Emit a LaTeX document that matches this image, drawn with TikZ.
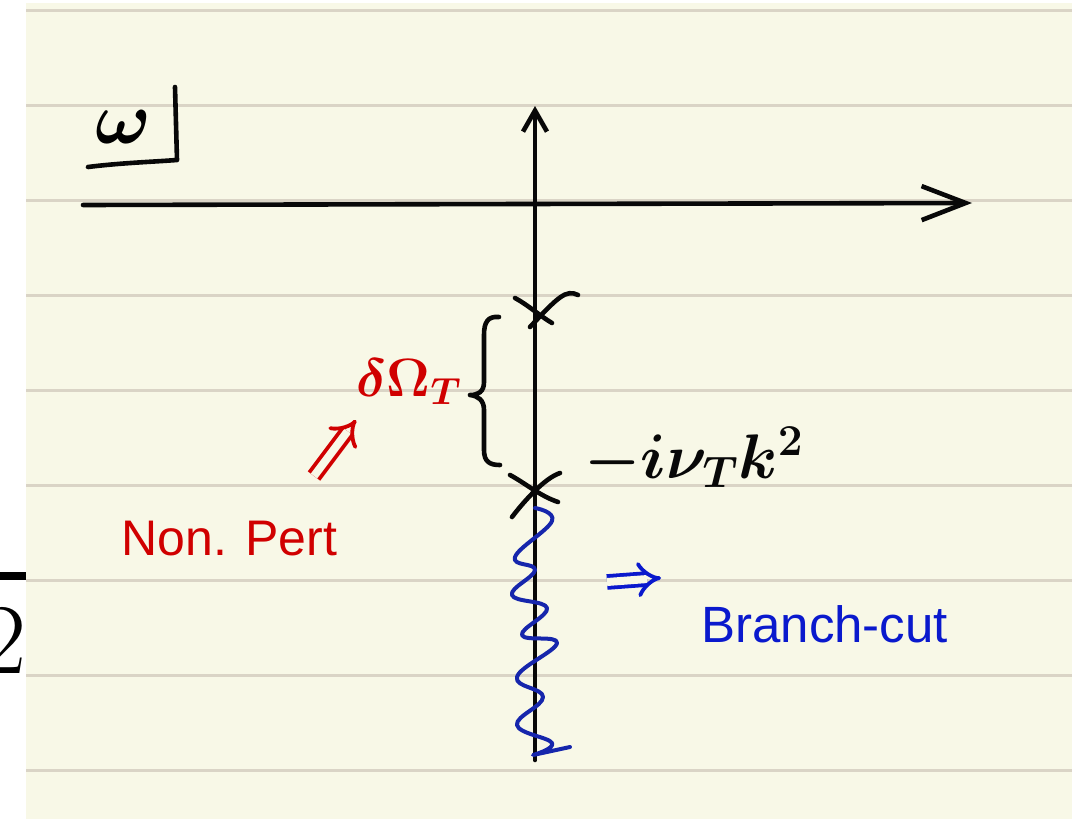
\RequirePackage{fix-cm}
\documentclass[tikz,border=0pt]{standalone}
\usepackage{fontspec}
\newfontfamily\sansfont{Liberation Sans}
\usetikzlibrary{arrows.meta}
\definecolor{paper}{RGB}{248,248,231}
\definecolor{ruling}{RGB}{218,212,198}
\definecolor{ink}{RGB}{8,8,8}
\definecolor{pred}{RGB}{208,0,0}
\definecolor{pblue}{RGB}{10,25,205}
\definecolor{wblue}{RGB}{22,38,172}
\begin{document}
\begin{tikzpicture}[x=0.5pt,y=-0.5pt,
  pen/.style={ink, line width=2.3pt, line cap=round, line join=round},
  dblarrow/.style={line width=1.9pt, double=paper, double distance=4pt, -{Implies}},
  sanslabel/.style={inner sep=0pt, anchor=base west, font=\sansfont\fontsize{25}{30}\selectfont},
  mathlabel/.style={inner sep=0pt, anchor=base west}]
\useasboundingbox (0,0) rectangle (1072,819);
\fill[white] (0,0) rectangle (1072,819);
% overlay fragment on the left margin
\node[anchor=base east, inner sep=0pt, font=\fontsize{50}{55}\selectfont] (two) at (27,673) {2};
\fill[black] (0,572) rectangle (26,580);
% notebook paper
\fill[paper] (26,2.5) rectangle (1072,819);
\foreach \i in {0,...,8}
  \draw[ruling, line width=1.5pt] (26,10.5+95.06*\i) -- (1072,10.5+95.06*\i);
% axes
\coordinate (xl) at (83,205);
\coordinate (xr) at (972,203);
\coordinate (yt) at (535,106);
\coordinate (yb) at (535,760);
\draw[pen, -{Straight Barb[length=22pt,width=17pt]}] (xl) -- (xr);
\draw[pen, -{Straight Barb[length=10.5pt,width=12pt]}] (yb) -- (yt);
% omega label
\node[inner sep=0pt, anchor=base, font=\fontsize{37}{40}\selectfont\boldmath] (w) at (123,143) {$\omega$};
\draw[pen] (88,167) .. controls (120,163) and (150,162) .. (177,160) -- (175,87);
% poles
\coordinate (p1) at (535,312);
\coordinate (p2) at (535,490);
\draw[pen] (515,298) .. controls (528,305) and (540,316) .. (552,323);
\draw[pen] (578,295) .. controls (566,289) and (558,297) .. (530,327);
\draw[pen] (510,475) .. controls (525,483) and (540,496) .. (558,502);
\draw[pen] (560,473) .. controls (545,478) and (525,500) .. (512,517);
% brace
\draw[pen] (499,317) .. controls (488,316) and (484,322) .. (484,335) -- (484,382)
  .. controls (484,392) and (478,395) .. (470,395)
  .. controls (478,396) and (484,400) .. (484,410) -- (484,450)
  .. controls (484,462) and (490,465) .. (500,465);
% labels
\node[mathlabel, pred, font=\fontsize{27}{30}\selectfont\boldmath] (dO) at (356,396) {$\delta\Omega_T$};
\node[mathlabel, ink, font=\fontsize{31.5}{36}\selectfont\boldmath] (lab) at (584,478) {$-i\nu_T k^2$};
\node[sanslabel, pred] (np) at (121,555) {Non. Pert};
\node[sanslabel, pblue, font=\sansfont\fontsize{25.5}{30}\selectfont] (bc) at (701,642) {Branch-cut};
% implication arrows
\coordinate (ra1) at (314,476);
\coordinate (ra2) at (356,420);
\draw[dblarrow, pred] (ra1) -- (ra2);
\coordinate (ba1) at (607,582);
\coordinate (ba2) at (661,578);
\draw[dblarrow, pblue] (ba1) -- (ba2);
% branch cut wiggle
\draw[wblue, line width=2pt, line cap=round, line join=round]
  plot[smooth, tension=0.7] coordinates {(535,508) (552,521) (515,557) (535,570) (512,595) (547,608) (522,635) (557,643) (517,677) (543,697) (517,725) (552,743) (533,755)}
  -- (570,747);
\end{tikzpicture}
\end{document}
